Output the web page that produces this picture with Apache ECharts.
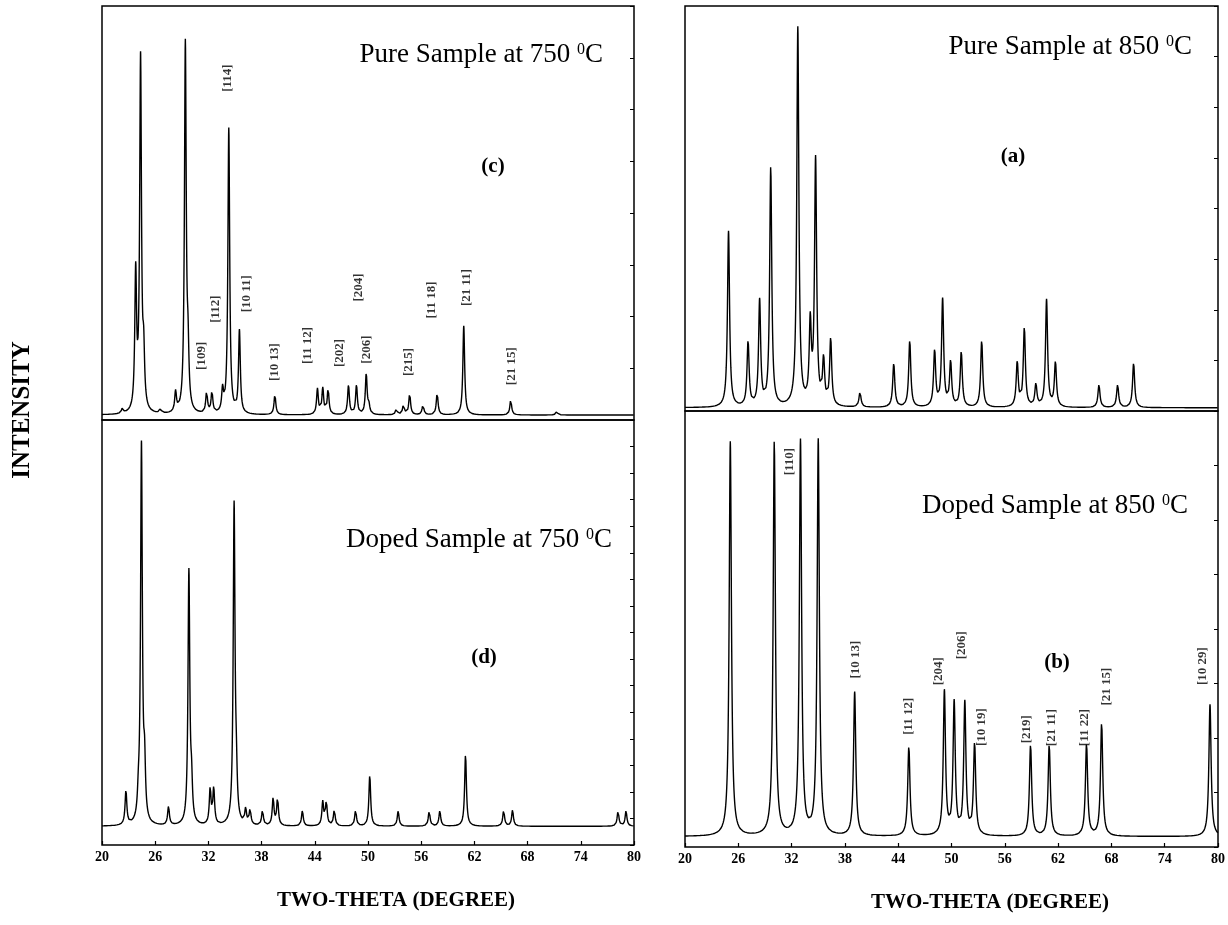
<!DOCTYPE html>
<html>
<head>
<meta charset="utf-8">
<script src="https://cdn.jsdelivr.net/npm/echarts@6/dist/echarts.min.js"></script>
<style>
  html, body { margin: 0; padding: 0; background: #fff; }
  #chart { width: 1228px; height: 925px; }
</style>
</head>
<body>
<div id="chart"></div>
<script>
// x axis ticks (two-theta, degree)
const xTicks = [20, 26, 32, 38, 44, 50, 56, 62, 68, 74, 80]

// (c) pure sample at 750 C : peak position / height above baseline
const cBase = 1.2
const cPos = [22.3, 23.8, 24.35, 24.7, 26.6, 28.3, 29.4, 29.7, 31.8, 32.4, 33.6, 34.3, 35.5, 39.5, 44.3, 44.9, 45.5, 47.8, 48.7, 49.8, 50.1, 53.2, 54.0, 54.7, 56.2, 57.8, 60.8, 66.1, 71.3]
const cAmp = [1.2, 33, 85, 12, 1.2, 4.9, 89, 12, 5.2, 5.2, 5.3, 69, 20, 4.9, 6.2, 6.3, 6.2, 7.1, 7.1, 9.8, 2, 1.4, 2.5, 5.1, 2.5, 5.3, 21.5, 3.7, 1]

// (d) doped sample at 750 C
const dBase = 4.4
const dPos = [22.7, 24.1, 24.45, 24.8, 27.5, 29.8, 30.1, 32.2, 32.6, 34.9, 35.15, 36.2, 36.7, 38.1, 39.3, 39.8, 42.6, 44.9, 45.3, 46.2, 48.6, 50.2, 53.4, 56.9, 58.1, 61.0, 65.3, 66.3, 78.2, 79.1]
const dAmp = [8, 4, 89, 12, 4.4, 59.5, 8, 8.4, 8.4, 75, 8, 3.6, 3.6, 3.6, 6.4, 6.4, 3.6, 5.6, 5.6, 3.8, 3.8, 12, 3.6, 3.6, 3.6, 17, 3.8, 3.8, 3.6, 3.6]

// (a) pure sample at 850 C
const aBase = 0.8
const aPos = [24.9, 27.1, 28.4, 29.65, 32.7, 34.1, 34.7, 35.6, 36.4, 39.7, 43.5, 45.3, 48.1, 49.0, 49.9, 51.1, 53.4, 57.4, 58.2, 59.5, 60.7, 61.7, 66.6, 68.7, 70.5]
const aAmp = [43.5, 16, 26, 59, 93.5, 19.5, 60.5, 11, 16.5, 3.7, 10.8, 16.5, 13.8, 26.5, 11, 13.6, 16.5, 11, 19.5, 5.5, 26.5, 11, 5.6, 5.6, 11]

// (b) doped sample at 850 C
const bBase = 2.4
const bPos = [25.1, 30.05, 33.0, 35.0, 39.1, 45.2, 49.2, 50.3, 51.5, 52.6, 58.9, 61.0, 65.2, 66.9, 79.1]
const bAmp = [90.5, 90.5, 90.5, 90.7, 33, 20.6, 33, 30.3, 30.3, 21, 21, 21, 21.2, 26, 30.3]

// hkl labels: [name, two-theta, height]
const cHkl = [['[109]', 31.2, 15.5], ['[112]', 32.8, 26.8], ['[114]', 34.2, 82.6], ['[10 11]', 36.3, 30.5], ['[10 13]', 39.5, 14], ['[11 12]', 43.2, 18], ['[202]', 46.8, 16.2], ['[204]', 49.0, 32], ['[206]', 49.9, 17], ['[215]', 54.6, 14], ['[11 18]', 57.2, 29], ['[21 11]', 61.1, 32], ['[21 15]', 66.2, 13]]
const bHkl = [['[110]', 31.8, 88.4], ['[10 13]', 39.2, 43], ['[11 12]', 45.2, 30], ['[204]', 48.5, 40.3], ['[206]', 51.1, 46.3], ['[10 19]', 53.4, 27.5], ['[219]', 58.5, 27], ['[21 11]', 61.3, 27.4], ['[11 22]', 65.0, 27.4], ['[21 15]', 67.5, 36.8], ['[10 29]', 78.3, 41.5]]

const serif = '"Liberation Serif", "DejaVu Serif", serif'

// broaden the peak list into a pattern (lorentzian lines)
function pattern (pos, amp, base, hw) {
  const xs = []
  for (let i = 0; i <= 3000; i++) xs.push(20 + i * 0.02)
  pos.forEach(p => xs.push(p))
  xs.sort((a, b) => a - b)
  return xs.map(x => {
    let y = base
    for (let k = 0; k < pos.length; k++) {
      y += amp[k] * hw * hw / ((x - pos[k]) * (x - pos[k]) + hw * hw)
    }
    return [x, y]
  })
}

const chart = echarts.init(document.getElementById('chart'))

const grids = [
  { left: 102, top: 6, width: 532, height: 414 },
  { left: 102, top: 420, width: 532, height: 425 },
  { left: 685, top: 6, width: 533, height: 405 },
  { left: 685, top: 411, width: 533, height: 436 }
].map(g => Object.assign(g, { show: true, borderColor: '#000', borderWidth: 1.5, containLabel: false }))

function xAxis (gi, labels) {
  return {
    type: 'value', gridIndex: gi, min: xTicks[0], max: xTicks[xTicks.length - 1], interval: xTicks[1] - xTicks[0],
    axisLine: { show: false },
    axisTick: { show: labels, inside: true, length: 4, lineStyle: { color: '#000', width: 1.2 } },
    axisLabel: { show: labels, color: '#000', fontFamily: serif, fontWeight: 'bold', fontSize: 14, margin: 5 },
    splitLine: { show: false }
  }
}
function yAxis (gi, step) {
  return {
    type: 'value', gridIndex: gi, min: 0, max: 100, interval: step, position: 'right',
    axisLine: { show: false },
    axisTick: { show: true, inside: true, length: 4, lineStyle: { color: '#000', width: 1 } },
    axisLabel: { show: false },
    splitLine: { show: false }
  }
}
function line (gi, data) {
  return {
    type: 'line', xAxisIndex: gi, yAxisIndex: gi, data: data,
    showSymbol: false, symbol: 'none', sampling: 'none', silent: true,
    lineStyle: { color: '#000', width: 1.4 }
  }
}
function hkl (gi, list) {
  return {
    type: 'scatter', xAxisIndex: gi, yAxisIndex: gi, symbolSize: 1, silent: true,
    itemStyle: { color: 'rgba(0,0,0,0)' },
    data: list.map(h => ({ name: h[0], value: [h[1], h[2]] })),
    label: {
      show: true, position: 'inside', rotate: 90, formatter: '{b}',
      color: '#000', fontFamily: serif, fontWeight: 'bold', fontSize: 13
    }
  }
}
function title (x, y, txt) {
  return {
    type: 'text', x: x, y: y,
    style: {
      text: txt, fill: '#000', font: '27px ' + serif, textAlign: 'right', textVerticalAlign: 'middle',
      rich: { s: { fontSize: 16, fontFamily: serif, verticalAlign: 'top' } }
    }
  }
}
function tag (x, y, txt) {
  return {
    type: 'text', x: x, y: y,
    style: { text: txt, fill: '#000', font: 'bold 21px ' + serif, textAlign: 'center', textVerticalAlign: 'middle' }
  }
}

const option = {
  backgroundColor: '#fff',
  animation: false,
  grid: grids,
  xAxis: [xAxis(0, false), xAxis(1, true), xAxis(2, false), xAxis(3, true)],
  yAxis: [yAxis(0, 12.5), yAxis(1, 6.25), yAxis(2, 12.5), yAxis(3, 12.5)],
  series: [
    line(0, pattern(cPos, cAmp, cBase, 0.12)),
    line(1, pattern(dPos, dAmp, dBase, 0.12)),
    line(2, pattern(aPos, aAmp, aBase, 0.14)),
    line(3, pattern(bPos, bAmp, bBase, 0.15)),
    hkl(0, cHkl),
    hkl(3, bHkl)
  ],
  graphic: [
    {
      type: 'text', x: 23, y: 410, rotation: Math.PI / 2,
      style: { text: 'INTENSITY', fill: '#000', font: 'bold 25px ' + serif, textAlign: 'center', textVerticalAlign: 'middle' }
    },
    {
      type: 'text', x: 396, y: 901,
      style: { text: 'TWO-THETA (DEGREE)', fill: '#000', font: 'bold 21px ' + serif, textAlign: 'center', textVerticalAlign: 'middle' }
    },
    {
      type: 'text', x: 990, y: 903,
      style: { text: 'TWO-THETA (DEGREE)', fill: '#000', font: 'bold 21px ' + serif, textAlign: 'center', textVerticalAlign: 'middle' }
    },
    title(603, 55, 'Pure Sample at 750 {s|0}C'),
    title(612, 540, 'Doped Sample at 750 {s|0}C'),
    title(1192, 47, 'Pure Sample at 850 {s|0}C'),
    title(1188, 506, 'Doped Sample at 850 {s|0}C'),
    tag(493, 167, '(c)'),
    tag(484, 658, '(d)'),
    tag(1013, 157, '(a)'),
    tag(1057, 663, '(b)')
  ]
}

chart.setOption(option)
</script>
</body>
</html>
